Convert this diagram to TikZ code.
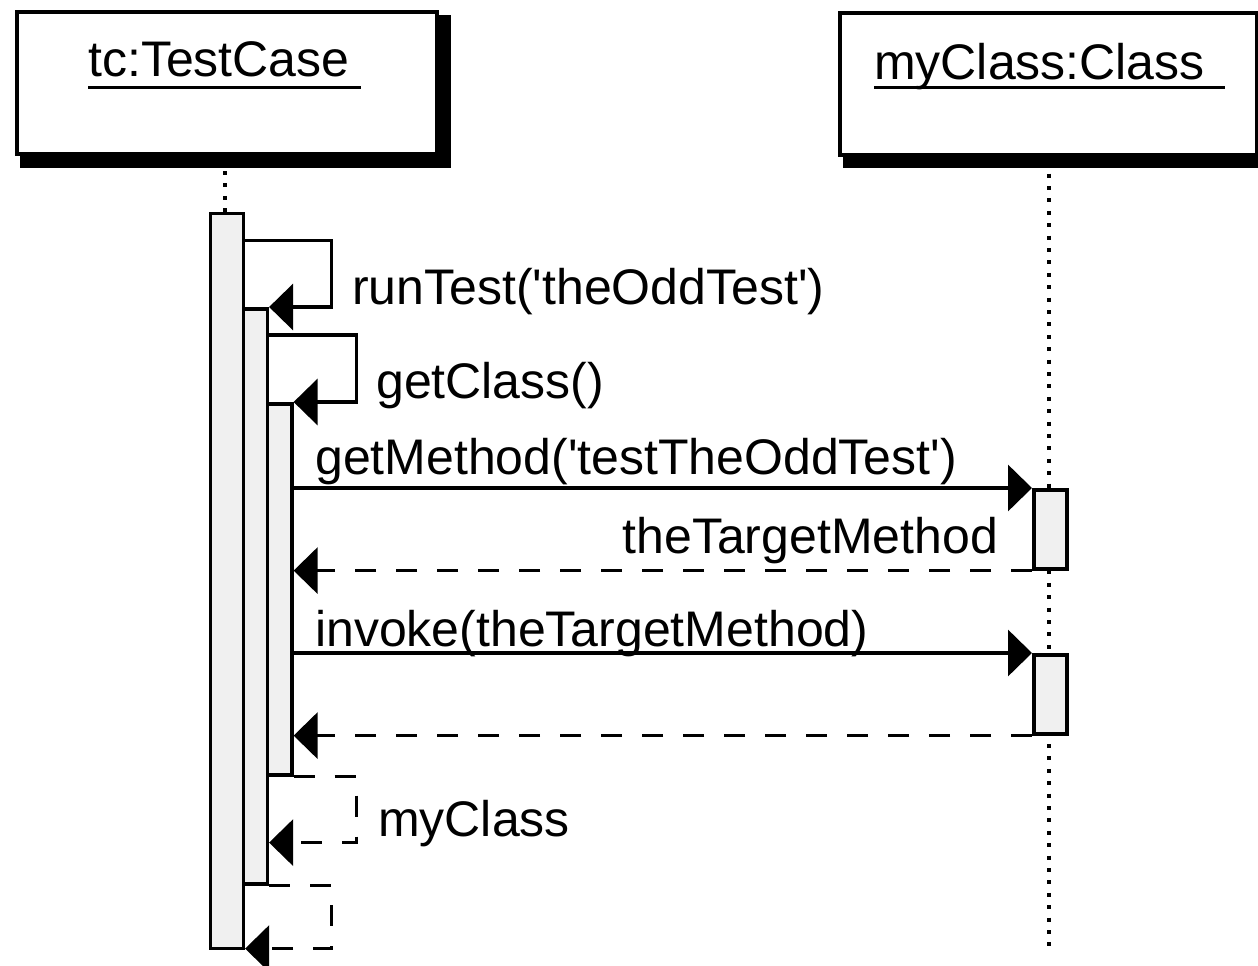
\documentclass[tikz,border=0pt]{standalone}
\usepackage{fontspec}
\setmainfont{Liberation Sans}
\usetikzlibrary{arrows.meta,calc}
\definecolor{barfill}{HTML}{F0F0F0}
\newcommand{\sq}{\textquotesingle}
\begin{document}
\begin{tikzpicture}[x=1pt,y=-1pt,
  lw/.style={line width=3.6pt},
  objbox/.style={draw,lw,fill=white,rectangle,inner sep=0pt,anchor=north west},
  actbar/.style={draw,lw,fill=barfill,rectangle,inner sep=0pt,anchor=north west},
  msg/.style={lw,-{Triangle[length=24pt,width=46pt]}},
  retmsg/.style={msg,dash pattern=on 21pt off 20pt},
  lifeline/.style={line width=4pt,dash pattern=on 4pt off 8.4pt},
  lbl/.style={font=\fontsize{50}{60}\selectfont,inner sep=0pt,anchor=base west}]
\useasboundingbox (0,0) rectangle (1258,966);
% object boxes with shadows
\fill (20,15) rectangle (451,168);
\node[objbox,minimum width=420pt,minimum height=142pt] (tcbox) at (15,10) {};
\fill (843,15) rectangle (1270,168);
\node[objbox,minimum width=417pt,minimum height=142pt] (mybox) at (838,11) {};
\node[lbl] (tctext) at (88,77) {tc:TestCase};
\draw[line width=3pt] ($(tctext.base west)+(0,10)$) -- ++(273,0);
\node[lbl] (mytext) at (874,79) {myClass:Class};
\draw[line width=3pt] ($(mytext.base west)+(0,8)$) -- ++(351,0);
% lifelines
\coordinate (tcend) at (225,211.5);
\coordinate (myend) at (1048.5,948);
\draw[lifeline] (225,171) -- (tcend);
\draw[lifeline] ($(mybox.south -| myend)+(0,17)$) -- (myend);
% activation bars
\node[actbar,minimum width=33pt,minimum height=735pt] (b1) at (208.5,211.5) {};
\node[actbar,minimum width=24pt,minimum height=575pt] (b2) at (241.5,307) {};
\node[actbar,minimum width=24.5pt,minimum height=371pt] (b3) at (265.5,402) {};
\node[actbar,minimum width=33pt,minimum height=79pt] (m1) at (1032,488) {};
\node[actbar,minimum width=33pt,minimum height=79pt] (m2) at (1032,653) {};
% self messages
\coordinate (s1) at ($(b1.north east)+(86.5,29)$);
\draw[msg] ($(b1.north east)+(0,29)$) -| (s1) |- (b2.north east);
\coordinate (s2) at ($(b2.north east)+(87.5,28)$);
\draw[msg] ($(b2.north east)+(0,28)$) -| (s2) |- (b3.north east);
\node[lbl] (l1) at (352,304) {runTest(\sq theOddTest\sq)};
\node[lbl] (l2) at (376,398) {getClass()};
% calls to myClass
\draw[msg] (b3.north east |- m1.north west) -- (m1.north west);
\draw[retmsg] (m1.south west) -- (b3.east |- m1.south west);
\draw[msg] (b3.north east |- m2.north west) -- (m2.north west);
\draw[retmsg] (m2.south west) -- (b3.east |- m2.south west);
\node[lbl] (l3) at (315,474) {getMethod(\sq testTheOddTest\sq)};
\node[lbl,anchor=base east] (l4) at (998,553) {theTargetMethod};
\node[lbl] (l5) at (315,646) {invoke(theTargetMethod)};
% returns
\coordinate (r1) at ($(b3.south east)+(63,66)$);
\draw[retmsg] (b3.south east) -| (r1) -- (b2.east |- r1);
\coordinate (r2) at ($(b2.south east)+(62.5,63)$);
\draw[retmsg] (b2.south east) -| (r2) -- (b1.east |- r2);
\node[lbl] (l6) at (378,836) {myClass};
\end{tikzpicture}
\end{document}
